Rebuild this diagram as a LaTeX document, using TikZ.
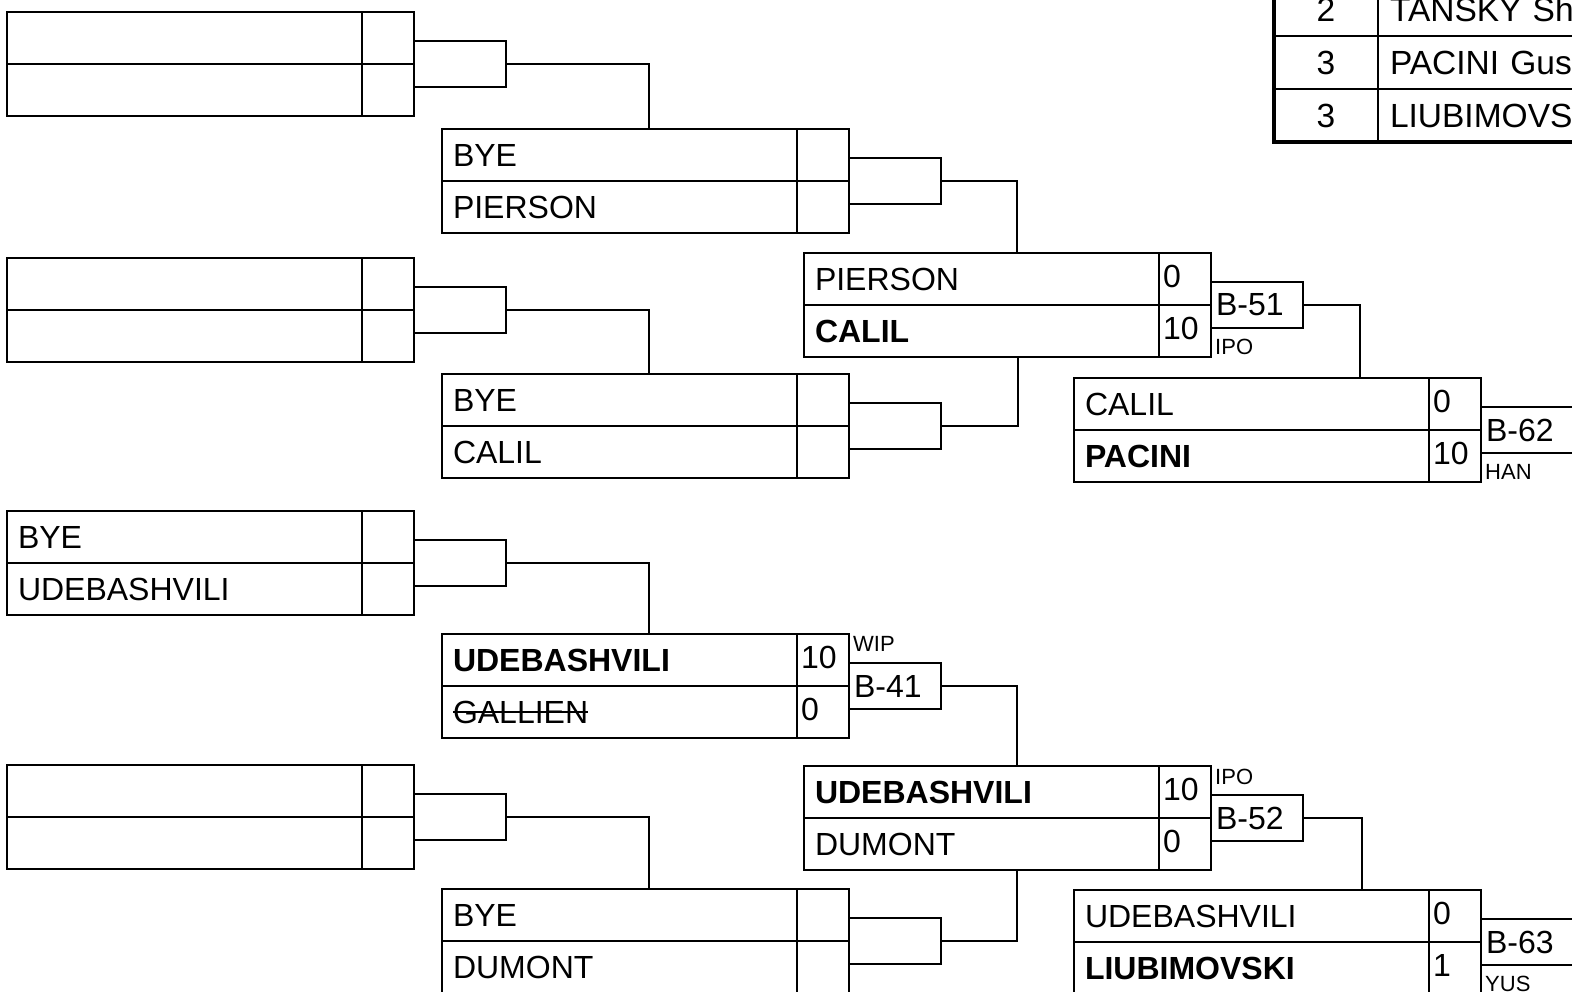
\documentclass[tikz,border=0pt]{standalone}
\usepackage{fontspec}
\setmainfont{Liberation Sans}
\usetikzlibrary{positioning}
\newcommand{\namefont}{\fontsize{32}{38}\selectfont}
\newcommand{\rankfont}{\fontsize{33.5}{40}\selectfont}
\newcommand{\tagfont}{\fontsize{22}{26}\selectfont}
\newsavebox{\strikebox}
\newcommand{\strikename}[1]{\sbox{\strikebox}{#1}\rlap{\usebox{\strikebox}}\rule[0.32em]{\wd\strikebox}{1.8pt}}
\tikzset{
    namecell/.style={draw, line width=1.8pt, rectangle, anchor=north west, minimum width=355pt, minimum height=52pt, text width=333pt, inner xsep=11pt, inner ysep=0pt, outer sep=0pt, align=left, font=\namefont},
    scorecell/.style={draw, line width=1.8pt, rectangle, minimum width=52pt, minimum height=52pt, text width=44pt, inner xsep=4pt, inner ysep=0pt, outer sep=0pt, align=left, text depth=5pt, font=\namefont},
    linkbox/.style={draw, line width=1.8pt, rectangle, anchor=west, minimum width=92pt, minimum height=46pt, text width=82pt, inner xsep=5pt, inner ysep=0pt, outer sep=0pt, align=left, font=\namefont},
    tagnote/.style={inner xsep=4pt, inner ysep=2.5pt, font=\tagfont},
    rankcell/.style={draw, line width=1.8pt, rectangle, anchor=north west, minimum width=104pt, minimum height=53pt, inner sep=0pt, outer sep=0pt, font=\rankfont},
    rankname/.style={draw, line width=1.8pt, rectangle, minimum width=300pt, minimum height=53pt, text width=276pt, inner xsep=12pt, inner ysep=0pt, outer sep=0pt, align=left, font=\rankfont},
    wire/.style={line width=1.8pt},
}
\begin{document}
\begin{tikzpicture}[x=1pt,y=1pt,yscale=-1,xscale=1]
        \useasboundingbox (0,0) rectangle (1572,991);
        \fill[white] (0,0) rectangle (1572,991);
        \clip (0,0) rectangle (1572,991);

        %Match box: round 1, match 1
        \node[namecell] (m11-up) at (7,12) {};
        \node[namecell, below=0pt of m11-up] (m11-dn) {};
        \node[scorecell, right=0pt of m11-up] (m11-upsc) {};
        \node[scorecell, right=0pt of m11-dn] (m11-dnsc) {};
        \node[linkbox] (m11-link) at (m11-upsc.south east) {};
        %Match box: round 1, match 2
        \node[namecell] (m12-up) at (7,258) {};
        \node[namecell, below=0pt of m12-up] (m12-dn) {};
        \node[scorecell, right=0pt of m12-up] (m12-upsc) {};
        \node[scorecell, right=0pt of m12-dn] (m12-dnsc) {};
        \node[linkbox] (m12-link) at (m12-upsc.south east) {};
        %Match box: round 1, match 3
        \node[namecell] (m13-up) at (7,511) {BYE};
        \node[namecell, below=0pt of m13-up] (m13-dn) {UDEBASHVILI};
        \node[scorecell, right=0pt of m13-up] (m13-upsc) {};
        \node[scorecell, right=0pt of m13-dn] (m13-dnsc) {};
        \node[linkbox] (m13-link) at (m13-upsc.south east) {};
        %Match box: round 1, match 4
        \node[namecell] (m14-up) at (7,765) {};
        \node[namecell, below=0pt of m14-up] (m14-dn) {};
        \node[scorecell, right=0pt of m14-up] (m14-upsc) {};
        \node[scorecell, right=0pt of m14-dn] (m14-dnsc) {};
        \node[linkbox] (m14-link) at (m14-upsc.south east) {};

        %Match box: round 2, match 1
        \node[namecell] (m21-up) at (442,129) {BYE};
        \node[namecell, below=0pt of m21-up] (m21-dn) {PIERSON};
        \node[scorecell, right=0pt of m21-up] (m21-upsc) {};
        \node[scorecell, right=0pt of m21-dn] (m21-dnsc) {};
        \node[linkbox] (m21-link) at (m21-upsc.south east) {};
        %Match box: round 2, match 2
        \node[namecell] (m22-up) at (442,374) {BYE};
        \node[namecell, below=0pt of m22-up] (m22-dn) {CALIL};
        \node[scorecell, right=0pt of m22-up] (m22-upsc) {};
        \node[scorecell, right=0pt of m22-dn] (m22-dnsc) {};
        \node[linkbox] (m22-link) at (m22-upsc.south east) {};
        %Match box: round 2, match 3
        \node[namecell] (m23-up) at (442,634) {\textbf{UDEBASHVILI}};
        \node[namecell, below=0pt of m23-up] (m23-dn) {\strikename{GALLIEN}};
        \node[scorecell, right=0pt of m23-up] (m23-upsc) {10};
        \node[scorecell, right=0pt of m23-dn] (m23-dnsc) {0};
        \node[linkbox] (m23-link) at (m23-upsc.south east) {B-41};
        %Match box: round 2, match 4
        \node[namecell] (m24-up) at (442,889) {BYE};
        \node[namecell, below=0pt of m24-up] (m24-dn) {DUMONT};
        \node[scorecell, right=0pt of m24-up] (m24-upsc) {};
        \node[scorecell, right=0pt of m24-dn] (m24-dnsc) {};
        \node[linkbox] (m24-link) at (m24-upsc.south east) {};

        %Match box: round 3, match 1
        \node[namecell] (m31-up) at (804,253) {PIERSON};
        \node[namecell, below=0pt of m31-up] (m31-dn) {\textbf{CALIL}};
        \node[scorecell, right=0pt of m31-up] (m31-upsc) {0};
        \node[scorecell, right=0pt of m31-dn] (m31-dnsc) {10};
        \node[linkbox] (m31-link) at (m31-upsc.south east) {B-51};
        %Match box: round 3, match 2
        \node[namecell] (m32-up) at (804,766) {\textbf{UDEBASHVILI}};
        \node[namecell, below=0pt of m32-up] (m32-dn) {DUMONT};
        \node[scorecell, right=0pt of m32-up] (m32-upsc) {10};
        \node[scorecell, right=0pt of m32-dn] (m32-dnsc) {0};
        \node[linkbox] (m32-link) at (m32-upsc.south east) {B-52};

        %Match box: round 4, match 1
        \node[namecell] (m41-up) at (1074,378) {CALIL};
        \node[namecell, below=0pt of m41-up] (m41-dn) {\textbf{PACINI}};
        \node[scorecell, right=0pt of m41-up] (m41-upsc) {0};
        \node[scorecell, right=0pt of m41-dn] (m41-dnsc) {10};
        \node[linkbox] (m41-link) at (m41-upsc.south east) {B-62};
        %Match box: round 4, match 2
        \node[namecell] (m42-up) at (1074,890) {UDEBASHVILI};
        \node[namecell, below=0pt of m42-up] (m42-dn) {\textbf{LIUBIMOVSKI}};
        \node[scorecell, right=0pt of m42-up] (m42-upsc) {0};
        \node[scorecell, right=0pt of m42-dn] (m42-dnsc) {1};
        \node[linkbox] (m42-link) at (m42-upsc.south east) {B-63};

        % Text Node
        \node[tagnote, anchor=north west] (m23-tag) at (m23-upsc.north east) {WIP};
        % Text Node
        \node[tagnote, anchor=south west] (m31-tag) at (m31-dnsc.south east) {IPO};
        % Text Node
        \node[tagnote, anchor=north west] (m32-tag) at (m32-upsc.north east) {IPO};
        % Text Node
        \node[tagnote, anchor=south west] (m41-tag) at (m41-dnsc.south east) {HAN};
        % Text Node
        \node[tagnote, anchor=south west] (m42-tag) at (m42-dnsc.south east) {YUS};

        %Wires
        \draw[wire] (m11-link.east) -- ++(143,0) |- (m21-up.north);
        \draw[wire] (m12-link.east) -- ++(143,0) |- (m22-up.north);
        \draw[wire] (m13-link.east) -- ++(143,0) |- (m23-up.north);
        \draw[wire] (m14-link.east) -- ++(143,0) |- (m24-up.north);
        \draw[wire] (m21-link.east) -- ++(76,0) |- (m31-up.north);
        \draw[wire] (m22-link.east) -- ++(77,0) |- (m31-dn.south);
        \draw[wire] (m23-link.east) -- ++(76,0) |- (m32-up.north);
        \draw[wire] (m24-link.east) -- ++(76,0) |- (m32-dn.south);
        \draw[wire] (m31-link.east) -- ++(57,0) |- (m41-up.north);
        \draw[wire] (m32-link.east) -- ++(59,0) |- (m42-up.north);

        %Ranking table
        \node[rankcell] (rk1) at (1274,-17) {2};
        \node[rankcell, below=0pt of rk1] (rk2) {3};
        \node[rankcell, below=0pt of rk2] (rk3) {3};
        \node[rankname, right=0pt of rk1] (rn1) {TANSKY Sh};
        \node[rankname, right=0pt of rk2] (rn2) {PACINI Gus};
        \node[rankname, right=0pt of rk3] (rn3) {LIUBIMOVS};
        \draw[line width=3.4pt] (rk1.north west) |- (rn3.south east);
\end{tikzpicture}
\end{document}
